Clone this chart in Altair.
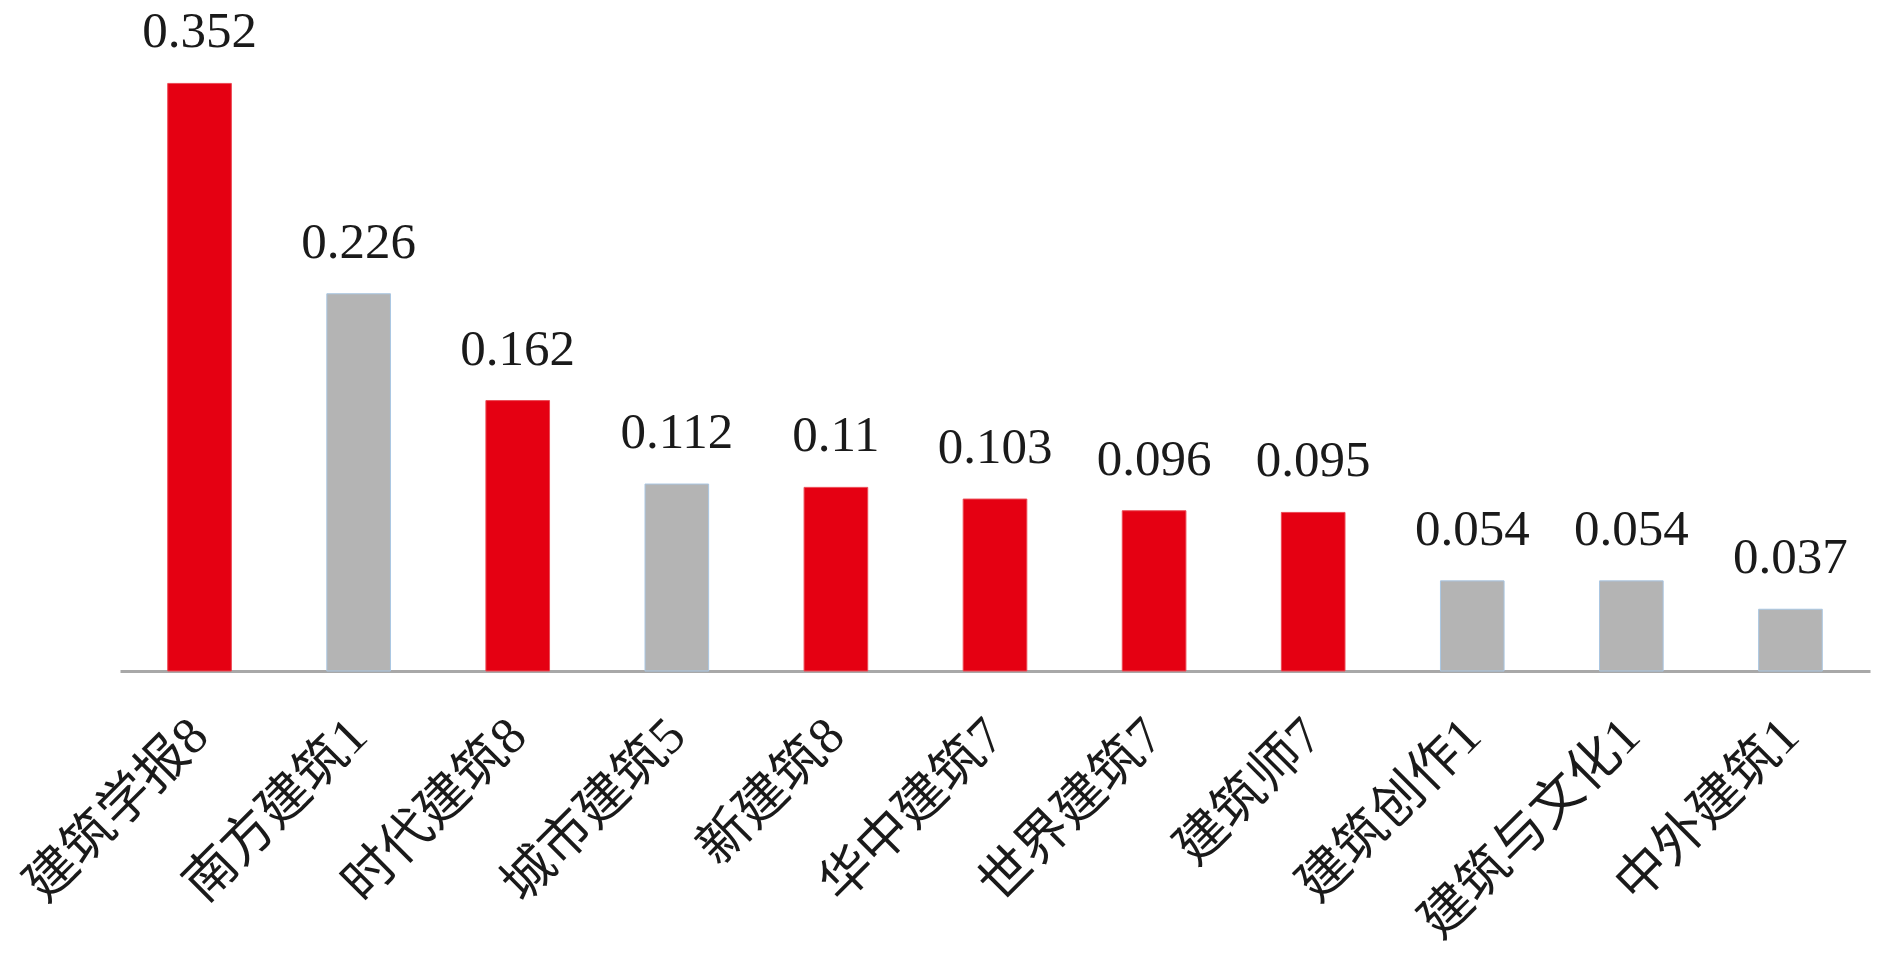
import altair as alt
import pandas as pd

journals = ["建筑学报8", "南方建筑1", "时代建筑8", "城市建筑5", "新建筑8", "华中建筑7",
            "世界建筑7", "建筑师7", "建筑创作1", "建筑与文化1", "中外建筑1"]
values = [0.352, 0.226, 0.162, 0.112, 0.11, 0.103, 0.096, 0.095, 0.054, 0.054, 0.037]
groups = ["red", "gray", "red", "gray", "red", "red", "red", "red", "gray", "gray", "gray"]

df = pd.DataFrame({
    "journal": journals,
    "value": values,
    "group": groups,
    "label": [str(v) for v in values],
})

x = alt.X(
    "journal:N", sort=None, title=None,
    scale=alt.Scale(paddingInner=0.6, paddingOuter=0.3),
    axis=alt.Axis(
        labelAngle=-45, labelAlign="right", labelBaseline="middle",
        labelPadding=56, ticks=False, tickSize=0,
        labelFont="Liberation Serif, Noto Sans CJK SC", labelFontSize=52,
        labelColor="#1a1a1a", labelLimit=600, labelOverlap=False,
        domainColor="#A8A8A8", domainWidth=3, grid=False,
    ),
)
y = alt.Y("value:Q", scale=alt.Scale(domain=[0, 0.39], nice=False), axis=None)

bars = alt.Chart(df).mark_bar(strokeWidth=1).encode(
    x=x, y=y,
    color=alt.Color("group:N", legend=None,
                    scale=alt.Scale(domain=["red", "gray"], range=["#E50012", "#B4B4B4"])),
    stroke=alt.Stroke("group:N", legend=None,
                      scale=alt.Scale(domain=["red", "gray"], range=["#EC4A55", "#A9C6E2"])),
)

text = alt.Chart(df).mark_text(
    dy=-36, baseline="alphabetic", align="center",
    font="Liberation Serif", fontSize=51, color="#1a1a1a",
).encode(x=x, y=y, text="label:N")

chart = alt.layer(bars, text).properties(
    width=1750, height=651,
    autosize=alt.AutoSizeParams(type="none"),
    padding={"left": 112, "top": 12, "right": 12, "bottom": 275},
).configure_view(stroke=None)

chart.save("out.html", embed_options={"renderer": "svg", "actions": False})
